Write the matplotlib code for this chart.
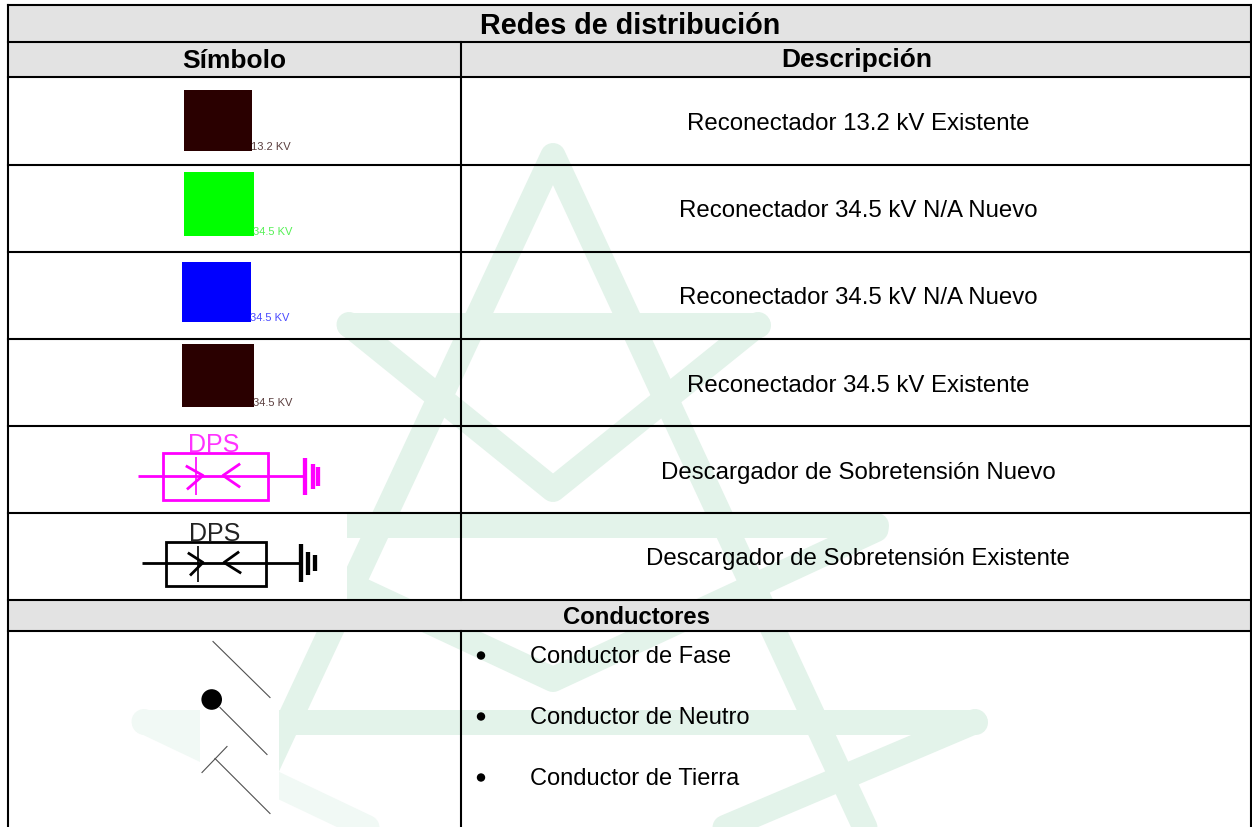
import matplotlib
matplotlib.use('Agg')
import matplotlib.pyplot as plt
from matplotlib.patches import Rectangle, Circle

plt.rcParams['font.family'] = ['Liberation Sans', 'DejaVu Sans']

# Text of the table
TITLE = 'Redes de distribución'
HEAD_SYMBOL = 'Símbolo'
HEAD_DESC = 'Descripción'
DESCRIPTIONS = [
    'Reconectador 13.2 kV Existente',
    'Reconectador 34.5 kV N/A Nuevo',
    'Reconectador 34.5 kV N/A Nuevo',
    'Reconectador 34.5 kV Existente',
    'Descargador de Sobretensión Nuevo',
    'Descargador de Sobretensión Existente',
]
SECTION = 'Conductores'
CONDUCTORS = ['Conductor de Fase', 'Conductor de Neutro', 'Conductor de Tierra']

# Reconnector swatches
SWATCH_LABELS = ['13.2 KV', '34.5 KV', '34.5 KV', '34.5 KV']
SWATCH_COLORS = ['#2A0000', '#00FF00', '#0000FF', '#2A0000']
SWATCH_TEXT_COLORS = ['#5A3E3E', '#55F055', '#4A4AFF', '#5A3E3E']

# Layout in pixels of the 1252x828 picture
LEFT, MID, RIGHT = 8, 461, 1251
TOP, BOTTOM = 5, 828
ROW_LINES = [42, 77, 165, 252, 339, 426, 513, 600, 631]
SWATCH_X = [(184, 252), (184, 254), (182, 251), (182, 254)]
SWATCH_Y = [(90, 151), (172, 236), (262, 322), (344, 407)]
DESC_BASELINES = [130, 217, 304, 392, 479, 565]
CONDUCTOR_BASELINES = [663, 724, 785]
BULLET_Y = [656, 717, 778]

WATERMARK = '#E3F3EA'
WATERMARK_FADED = '#F1F9F5'
GREY = '#E3E3E3'


def draw_watermark(ax):
    # star-like logo behind the table, drawn as wide round-capped strokes
    faded = [
        [(144, 722), (280, 722)],
        [(144, 722), (367, 828)],
    ]
    for s in faded:
        ax.plot([p[0] for p in s], [p[1] for p in s], color=WATERMARK_FADED, lw=18,
                solid_capstyle='round', solid_joinstyle='round', zorder=1)
    strokes = [
        [(239, 828), (553, 156), (865, 828)],
        [(349, 325), (758, 325)],
        [(349, 325), (553, 490), (758, 325)],
        [(232, 525), (876, 525)],
        [(232, 530), (553, 680), (876, 530)],
        [(280, 722), (975, 722)],
        [(975, 722), (725, 828)],
    ]
    for s in strokes:
        ax.plot([p[0] for p in s], [p[1] for p in s], color=WATERMARK, lw=18,
                solid_capstyle='round', solid_joinstyle='round', zorder=1)


def draw_grid(ax):
    # grey header bands, then the black rules
    for y0, y1 in [(TOP, ROW_LINES[0]), (ROW_LINES[0], ROW_LINES[1]), (ROW_LINES[7], ROW_LINES[8])]:
        ax.add_patch(Rectangle((LEFT, y0), RIGHT - LEFT, y1 - y0, fc=GREY, ec='none', zorder=2))
    for y in [TOP] + ROW_LINES:
        ax.plot([LEFT, RIGHT], [y, y], color='black', lw=1.5, zorder=6, solid_capstyle='projecting')
    ax.plot([LEFT, LEFT], [TOP, BOTTOM], color='black', lw=1.5, zorder=6)
    ax.plot([RIGHT, RIGHT], [TOP, BOTTOM], color='black', lw=1.5, zorder=6)
    ax.plot([MID, MID], [ROW_LINES[0], ROW_LINES[7]], color='black', lw=1.5, zorder=6)
    ax.plot([MID, MID], [ROW_LINES[8], BOTTOM], color='black', lw=1.5, zorder=6)


def draw_swatches(ax):
    for i in range(len(SWATCH_LABELS)):
        x0, x1 = SWATCH_X[i]
        y0, y1 = SWATCH_Y[i]
        ax.add_patch(Rectangle((x0, y0), x1 - x0, y1 - y0, fc=SWATCH_COLORS[i], ec='none', zorder=4))
        ax.text(x1 - 1, y1 - 4.5, SWATCH_LABELS[i], color=SWATCH_TEXT_COLORS[i], fontsize=8,
                ha='left', va='center', zorder=5)


def draw_dps(ax, color, text_color, rect, wire, ground, thin, arrow_a, arrow_b, label_xy):
    x0, y0, x1, y1 = rect
    ax.add_patch(Rectangle((x0, y0), x1 - x0, y1 - y0, fc='none', ec=color, lw=2, zorder=4))
    ax.plot(wire[:2], [wire[2], wire[2]], color=color, lw=2, zorder=4, solid_capstyle='butt')
    for gx, gy0, gy1 in ground:
        ax.plot([gx, gx], [gy0, gy1], color=color, lw=3.1, zorder=4, solid_capstyle='butt')
    ax.plot([thin[0], thin[0]], thin[1:], color=color, lw=1.2, zorder=4, solid_capstyle='butt')
    for arrow in (arrow_a, arrow_b):
        ax.plot([p[0] for p in arrow], [p[1] for p in arrow], color=color, lw=2, zorder=4)
    ax.text(label_xy[0], label_xy[1], 'DPS', color=text_color, fontsize=18,
            ha='center', va='baseline', zorder=5)


def draw_conductors(ax):
    ax.add_patch(Rectangle((200, 632), 79, 196, fc='white', ec='none', zorder=3))
    segments = [
        [(213, 642), (270, 698)],
        [(220, 708), (267, 755)],
        [(202, 773), (227, 747)],
        [(215, 759), (270, 814)],
    ]
    for s in segments:
        ax.plot([p[0] for p in s], [p[1] for p in s], color='#505050', lw=0.8, zorder=4)
    ax.add_patch(Circle((211.7, 700), 10.3, fc='black', ec='none', zorder=5))


def draw_text(ax):
    ax.text(630.5, 33, TITLE, fontsize=20.7, fontweight='bold', ha='center', va='baseline', zorder=7)
    ax.text(234, 67, HEAD_SYMBOL, fontsize=19, fontweight='bold', ha='center', va='baseline', zorder=7)
    ax.text(857, 67, HEAD_DESC, fontsize=19, fontweight='bold', ha='center', va='baseline', zorder=7)
    ax.text(636, 624, SECTION, fontsize=17.2, fontweight='bold', ha='center', va='baseline', zorder=7)
    for y, desc in zip(DESC_BASELINES, DESCRIPTIONS):
        ax.text(858, y, desc, fontsize=17.3, ha='center', va='baseline', zorder=7)
    for y, name in zip(CONDUCTOR_BASELINES, CONDUCTORS):
        ax.text(530, y, name, fontsize=17, ha='left', va='baseline', zorder=7)
    for y in BULLET_Y:
        ax.add_patch(Circle((481, y), 4.2, fc='black', ec='none', zorder=7))


fig = plt.figure(figsize=(12.52, 8.28), dpi=100)
ax = fig.add_axes([0, 0, 1, 1])
ax.set_xlim(0, 1252)
ax.set_ylim(827.5, -0.5)
ax.axis('off')

draw_watermark(ax)
draw_grid(ax)
# the symbols are pasted images with white backgrounds
ax.add_patch(Rectangle((125, 514), 222, 85, fc='white', ec='none', zorder=3))
draw_swatches(ax)
draw_dps(ax, '#FF00FF', '#FF33FF', (163, 453, 268, 500.5), (138, 303, 476),
         [(305, 458, 495), (313, 464, 489), (318, 467, 486)], (196, 457, 495),
         [(187, 467), (203, 476), (188, 489)], [(239, 465), (223, 476), (239, 487)], (214, 452))
draw_dps(ax, 'black', '#222222', (166, 542, 266, 586.5), (142, 300, 563),
         [(301, 544, 582), (308, 552, 575), (315, 555, 571)], (198, 546, 582),
         [(189, 554), (203, 563), (191, 575)], [(238, 553), (224, 563), (240, 573)], (215, 540.5))
draw_conductors(ax)
draw_text(ax)

fig.savefig('out.png', dpi=100)
